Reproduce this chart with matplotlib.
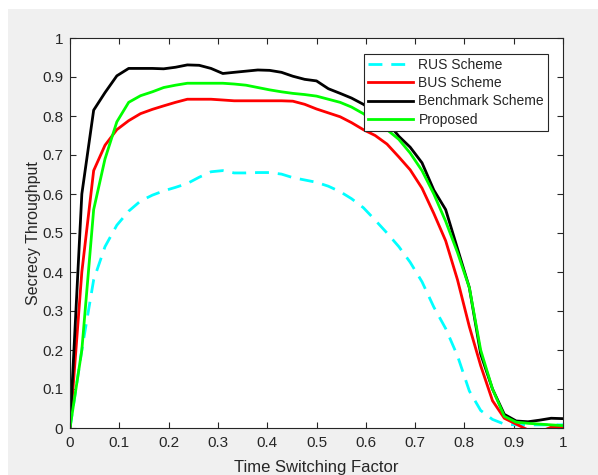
import numpy as np
import matplotlib
matplotlib.use("Agg")
import matplotlib.pyplot as plt
from matplotlib.patches import Rectangle

plt.rcParams['font.family'] = ['Liberation Sans', 'DejaVu Sans']

# time switching factor samples (43 points, 0..1)
tsf = [0.000, 0.024, 0.048, 0.071, 0.095, 0.119, 0.143, 0.167, 0.190, 0.214,
       0.238, 0.262, 0.286, 0.310, 0.333, 0.357, 0.381, 0.405, 0.429, 0.452,
       0.476, 0.500, 0.524, 0.548, 0.571, 0.595, 0.619, 0.643, 0.667, 0.690,
       0.714, 0.738, 0.762, 0.786, 0.810, 0.833, 0.857, 0.881, 0.905, 0.929,
       0.952, 0.976, 1.000]

rus = [0.0, 0.20, 0.38, 0.465, 0.52, 0.556, 0.582, 0.597, 0.608, 0.617,
       0.627, 0.643, 0.657, 0.660, 0.654, 0.654, 0.655, 0.655, 0.651, 0.642,
       0.636, 0.630, 0.620, 0.606, 0.588, 0.565, 0.533, 0.500, 0.465, 0.425,
       0.375, 0.310, 0.255, 0.185, 0.095, 0.045, 0.022, 0.010, 0.008, 0.008,
       0.008, 0.008, 0.008]

bus = [0.0, 0.40, 0.66, 0.725, 0.765, 0.788, 0.806, 0.817, 0.826, 0.835,
       0.843, 0.843, 0.843, 0.841, 0.839, 0.839, 0.839, 0.839, 0.839, 0.838,
       0.830, 0.818, 0.808, 0.798, 0.783, 0.765, 0.750, 0.728, 0.695, 0.662,
       0.615, 0.550, 0.480, 0.380, 0.260, 0.160, 0.070, 0.025, 0.010, -0.005,
       -0.010, 0.002, 0.002]

bench = [0.0, 0.60, 0.815, 0.86, 0.903, 0.922, 0.922, 0.922, 0.921, 0.925,
         0.931, 0.930, 0.922, 0.909, 0.912, 0.915, 0.918, 0.917, 0.912, 0.902,
         0.894, 0.890, 0.870, 0.858, 0.846, 0.830, 0.810, 0.785, 0.748, 0.720,
         0.680, 0.610, 0.560, 0.460, 0.360, 0.190, 0.100, 0.035, 0.018, 0.016,
         0.020, 0.025, 0.024]

proposed = [0.0, 0.20, 0.56, 0.69, 0.785, 0.835, 0.852, 0.862, 0.873, 0.879,
            0.884, 0.884, 0.884, 0.884, 0.882, 0.879, 0.873, 0.867, 0.862, 0.858,
            0.855, 0.851, 0.843, 0.835, 0.823, 0.806, 0.785, 0.765, 0.740, 0.705,
            0.660, 0.600, 0.530, 0.450, 0.360, 0.200, 0.100, 0.030, 0.015, 0.012,
            0.010, 0.008, 0.006]

txt = (0.15, 0.15, 0.15)

fig = plt.figure(figsize=(5.98, 4.75), dpi=100, facecolor='white')
# matlab grey window background
fig.patches.append(Rectangle((8 / 598, 0), 1, (475 - 9) / 475,
                             transform=fig.transFigure, facecolor='#f0f0f0',
                             edgecolor='none', zorder=-10))

ax = fig.add_axes([70 / 598, 47 / 475, 493 / 598, 390 / 475])
ax.set_facecolor('white')

ax.plot(tsf, rus, color='cyan', lw=2, linestyle=(0, (5, 3.2)), label='RUS Scheme')
ax.plot(tsf, bus, color='red', lw=2, label='BUS Scheme')
ax.plot(tsf, bench, color='black', lw=2, label='Benchmark Scheme')
ax.plot(tsf, proposed, color=(0, 1, 0), lw=2, label='Proposed')

ax.set_xlim(0, 1)
ax.set_ylim(0, 1)
ax.set_xticks(np.arange(0, 1.01, 0.1))
ax.set_yticks(np.arange(0, 1.01, 0.1))
ax.set_xticklabels(['0', '0.1', '0.2', '0.3', '0.4', '0.5', '0.6', '0.7', '0.8', '0.9', '1'])
ax.set_yticklabels(['0', '0.1', '0.2', '0.3', '0.4', '0.5', '0.6', '0.7', '0.8', '0.9', '1'])
ax.tick_params(direction='in', length=4, width=0.8, top=True, right=True,
               colors=txt, labelsize=11)
ax.tick_params(axis='x', pad=6)
ax.tick_params(axis='y', pad=5)
for s in ax.spines.values():
    s.set_color(txt)
    s.set_linewidth(0.8)

ax.set_xlabel('Time Switching Factor', fontsize=12, color=txt, labelpad=7)
ax.set_ylabel('Secrecy Throughput', fontsize=11.5, color=txt, labelpad=1)

leg = ax.legend(loc='upper right', bbox_to_anchor=(0.970, 0.959), fontsize=10,
                fancybox=False, framealpha=1, edgecolor=txt, borderpad=0.3,
                labelspacing=0.3, handlelength=3.2, handletextpad=0.4,
                borderaxespad=0)
leg.get_frame().set_linewidth(0.8)
for t in leg.get_texts():
    t.set_color(txt)

fig.savefig('out.png', dpi=100, facecolor=fig.get_facecolor())
